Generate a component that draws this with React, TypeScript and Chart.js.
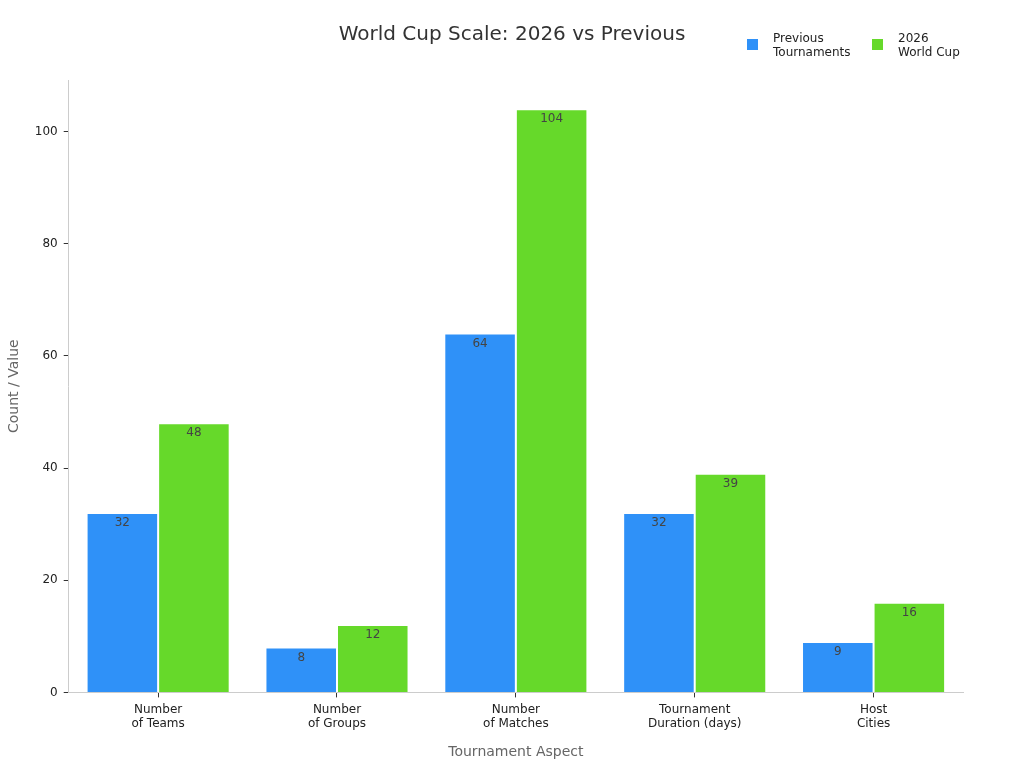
import { useEffect, useRef } from 'react';
import Chart from 'chart.js/auto';

const categories = [
  ['Number', 'of Teams'],
  ['Number', 'of Groups'],
  ['Number', 'of Matches'],
  ['Tournament', 'Duration (days)'],
  ['Host', 'Cities'],
];
const previousValues = [32, 8, 64, 32, 9];
const wc2026Values = [48, 12, 104, 39, 16];
const seriesNames = [
  ['Previous', 'Tournaments'],
  ['2026', 'World Cup'],
];
const seriesColors = ['#2f91f8', '#66d92a'];
const chartTitle = 'World Cup Scale: 2026 vs Previous';

const FONT = '"DejaVu Sans", sans-serif';

// values printed just inside the top of each bar
const barLabels = {
  id: 'barLabels',
  afterDatasetsDraw(chart: Chart) {
    const ctx = chart.ctx;
    ctx.save();
    ctx.font = `12px ${FONT}`;
    ctx.fillStyle = '#444';
    ctx.textAlign = 'center';
    ctx.textBaseline = 'middle';
    chart.data.datasets.forEach((ds, i) => {
      chart.getDatasetMeta(i).data.forEach((bar: any, j) => {
        ctx.fillText(String(ds.data[j]), bar.x, bar.y + 10);
      });
    });
    ctx.restore();
  },
};

// title + legend drawn by hand so they share one row
const header = {
  id: 'header',
  afterDraw(chart: Chart) {
    const ctx = chart.ctx;
    ctx.save();
    ctx.textBaseline = 'middle';
    ctx.textAlign = 'center';
    ctx.font = `20px ${FONT}`;
    ctx.fillStyle = '#333';
    ctx.fillText(chartTitle, chart.width / 2, 35);

    ctx.font = `12px ${FONT}`;
    ctx.textAlign = 'left';
    const starts = [747, 872];
    seriesNames.forEach((lines, i) => {
      const x = starts[i];
      ctx.fillStyle = seriesColors[i];
      ctx.fillRect(x, 39, 11, 11);
      ctx.fillStyle = '#222';
      lines.forEach((t, k) => ctx.fillText(t, x + 26, 39 + k * 14));
    });
    ctx.restore();
  },
};

const App = () => {
  const canvasRef = useRef<HTMLCanvasElement>(null);

  useEffect(() => {
    if (!canvasRef.current) return;
    document.body.style.margin = '0';
    const chart = new Chart(canvasRef.current, {
      type: 'bar',
      data: {
        labels: categories,
        datasets: [
          {
            label: seriesNames[0].join(' '),
            data: previousValues,
            backgroundColor: seriesColors[0],
            borderColor: 'rgba(255,255,255,0.6)',
            borderWidth: 1,
          },
          {
            label: seriesNames[1].join(' '),
            data: wc2026Values,
            backgroundColor: seriesColors[1],
            borderColor: 'rgba(255,255,255,0.6)',
            borderWidth: 1,
          },
        ],
      },
      options: {
        animation: false,
        responsive: true,
        maintainAspectRatio: false,
        layout: { padding: { top: 80, left: 2, right: 61, bottom: 3 } },
        datasets: { bar: { categoryPercentage: 0.8, barPercentage: 1.0 } },
        plugins: {
          legend: { display: false },
          tooltip: { enabled: false },
          title: { display: false },
        },
        scales: {
          x: {
            grid: { drawOnChartArea: false, offset: false, tickLength: 5, color: '#333' },
            border: { color: '#ccc' },
            ticks: { color: '#222', padding: 5, font: { family: FONT, size: 12 }, maxRotation: 0 },
            title: {
              display: true,
              text: 'Tournament Aspect',
              color: '#666',
              padding: { top: 8, bottom: 4 },
              font: { family: FONT, size: 14 },
            },
          },
          y: {
            min: 0,
            max: 109.2,
            afterBuildTicks: (scale: any) => {
              scale.ticks = scale.ticks.filter((t: any) => t.value % 20 === 0);
            },
            grid: { drawOnChartArea: false, tickLength: 5, color: '#333' },
            border: { color: '#ccc' },
            ticks: { stepSize: 20, padding: 6, color: '#222', font: { family: FONT, size: 12 } },
            title: {
              display: true,
              text: 'Count / Value',
              color: '#666',
              padding: { top: 4, bottom: 6 },
              font: { family: FONT, size: 14 },
            },
          },
        },
      },
      plugins: [barLabels, header],
    });
    return () => chart.destroy();
  }, []);

  return (
    <div style={{ position: 'fixed', left: 0, top: 0, width: 1024, height: 768 }}>
      <canvas ref={canvasRef} />
    </div>
  );
};

export default App;
